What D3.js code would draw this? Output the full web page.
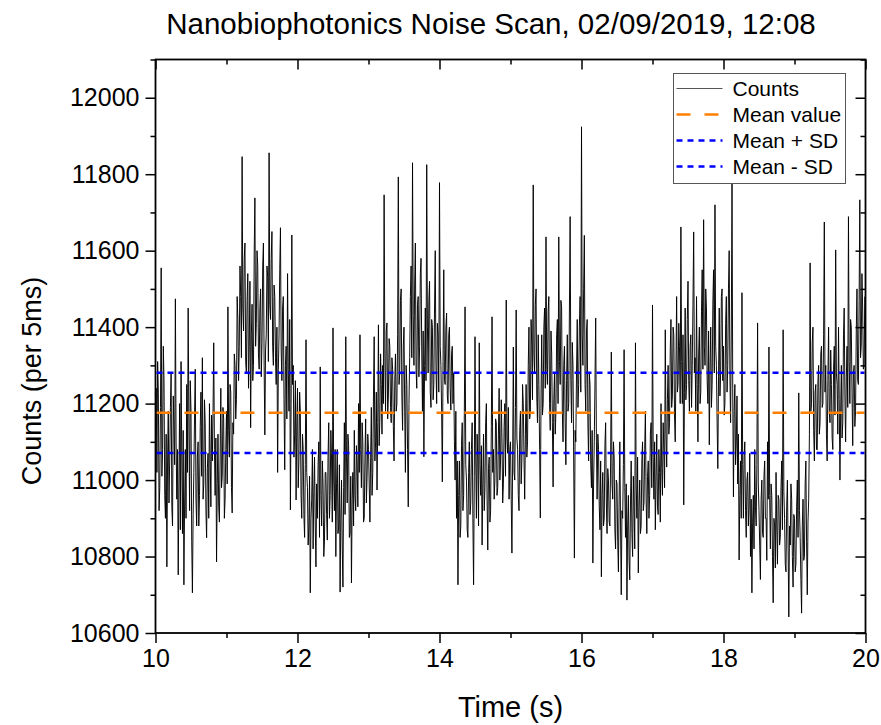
<!DOCTYPE html>
<html>
<head>
<meta charset="utf-8">
<script src="https://cdn.jsdelivr.net/npm/d3@7"></script>
<style>
  body { margin: 0; background: #fff; }
  svg { display: block; }
  text { font-family: Arial, "Liberation Sans", sans-serif; fill: #000; }
</style>
</head>
<body>
<svg id="chart" width="881" height="725"></svg>
<script>
// Photon counts per 5 ms bin, one sample every 10 ms from t = 10 s (each row spans 0.2 s)
const chartTitle = "Nanobiophotonics Noise Scan, 02/09/2019, 12:08";
const xLabel = "Time (s)";
const yLabel = "Counts (per 5ms)";
const startTime = 10;
const sampleStep = 0.01;
const counts = [
  11150,11240,11020,11310,11230,10920,10980,11190,11555,11010,11080,11350,11260,10960,10900,11120,10773,11050,11180,10940,
  11050,11190,11280,10930,10880,11220,11140,11040,11474,11100,10950,11080,10752,10990,11200,10870,11310,11060,10860,11130,
  10726,10940,11080,10900,11250,11020,11450,11160,10920,11260,11180,10840,10705,10910,11020,11170,11290,10950,10880,11060,
  11100,10880,10960,11140,11230,11010,11320,10950,10990,11210,11150,10920,10849,11030,11070,10900,11200,11060,10930,11170,
  11050,11170,11359,11080,10960,11110,10786,10990,11120,10930,10890,11060,11240,10980,11010,11190,11160,10900,10950,11080,
  11180,10990,11453,11130,11060,11250,11230,10980,10914,11150,11120,11330,11300,11160,11210,11480,11420,11260,11350,11560,
  11480,11320,11846,11450,11390,11580,11620,11310,11280,11470,11540,11240,11350,11520,11137,11380,11460,11260,11300,11590,
  11738,11350,11410,11600,11560,11330,11290,11450,11500,11270,11360,11560,11620,11300,11118,11340,11380,11560,11530,11310,
  11856,11460,11420,11580,11650,11350,11300,11510,11480,11320,11250,11400,11020,11290,11380,11550,11660,11340,11260,11450,
  11480,11210,11027,11300,11350,11160,11540,11290,11180,11420,10922,11200,11641,11250,11300,11060,11120,11260,10948,11150,
  11240,10980,11050,11230,11180,10960,10900,11120,11080,10910,10850,11040,11367,11020,10980,10830,10880,11010,10705,10900,
  10950,11080,10820,10970,11060,10880,10773,10990,10900,11040,11100,10850,11296,10960,10880,11050,10990,10800,10840,11020,
  11020,10910,10843,11060,11150,10900,10960,11130,11050,10890,11398,11000,10920,11080,10800,10990,11080,10860,10880,11040,
  10707,10900,11000,10830,10720,10980,11150,10910,11375,11060,10940,11120,11090,10850,10860,11010,10731,10950,11020,10880,
  11130,10960,10920,11090,11040,10930,11200,11020,11380,11080,10980,11150,11100,10890,10900,11060,11160,10940,11010,11120,
  11080,10990,10890,11060,11190,10960,11020,11220,11375,11050,11100,11230,10974,11150,11406,11090,11160,11330,11250,11120,
  11300,11200,11746,11330,11180,11390,11411,11160,11220,11370,11350,11190,11150,11320,11290,11140,11050,11260,11330,11180,
  11200,11380,11793,11250,11280,11470,11500,11220,11130,11350,11400,11180,11020,11300,11250,11080,10930,11200,11320,11480,
  11560,11320,11830,11430,11300,11510,11620,11290,11240,11460,11480,11270,11350,11540,11580,11330,11180,11390,11061,11300,
  11450,11260,11825,11400,11280,11470,11520,11230,11190,11420,11400,11210,11250,11450,11600,11300,11200,11410,11380,11230,
  11778,11350,11300,11180,10995,11310,11550,11260,11250,11400,11437,11220,11200,11380,11400,11240,11183,11330,11350,11200,
  11280,11100,11000,11180,10900,11050,10726,10960,11050,10850,10880,11090,11150,10920,10960,11180,11453,11040,11000,10870,
  10850,11020,11100,10910,10940,11080,11150,10900,10726,11010,11375,11060,10900,11120,11050,10880,11359,11040,10960,11090,
  10830,10990,11120,10920,10980,11150,11200,10950,10817,11030,11060,10890,10920,11140,11427,11020,11080,10950,11000,11160,
  11150,10960,10980,11120,11240,11000,11050,11210,11110,10940,10990,11140,11200,11010,11471,11110,11070,11190,10950,11080,
  11100,10950,10809,11050,11348,11020,11000,11190,11445,11110,11080,10960,10920,11130,11180,10990,11050,11250,11200,11060,
  10950,11120,11250,11060,11100,11300,11400,11160,11180,11420,11350,11210,11772,11330,11280,11460,11500,11220,11150,11380,
  11250,11080,10901,11220,11380,11170,11200,11400,11450,11240,11636,11300,11250,11440,11480,11200,11130,11390,11330,11150,
  10982,11210,11280,11120,11180,11380,11420,11200,11636,11310,11250,11470,11450,11180,11100,11300,11350,11150,11040,11260,
  11380,11180,11200,11450,11689,11260,11150,11360,11300,11050,10796,11130,11100,11280,11420,11190,11250,11400,11480,11230,
  11924,11380,11300,11500,11640,11250,11180,11390,11420,11150,11050,11280,11250,11040,10980,11130,10783,10990,11100,11260,
  11424,11100,10950,11120,11080,10930,10870,11050,10747,10960,11020,10880,10900,11090,11150,10940,10860,11030,11000,10890,
  10880,11050,11335,10990,10950,11100,11060,10870,10820,11000,10990,10840,10760,10950,11100,10880,10700,10920,10900,11040,
  11341,10980,10850,10990,10686,10880,10960,10790,10739,10940,11050,10860,10800,11010,10930,10820,11359,10990,10900,11060,
  10757,10930,11000,10860,10880,11050,11100,10920,10940,11080,11180,10950,10860,11010,11050,10900,10960,11120,11150,10980,
  11458,11060,10950,11100,10870,11010,11120,10930,10910,11080,11020,10890,11200,11030,10960,11150,11080,10980,11393,11120,
  11034,11210,11300,11120,11150,11340,11420,11190,11220,11400,11380,11170,11100,11290,11480,11230,11250,11410,11350,11200,
  11662,11310,11200,11380,10935,11230,11450,11210,11250,11420,11520,11260,11180,11350,11380,11190,11300,11460,11649,11280,
  11320,11180,11480,11250,11100,11330,11400,11200,11230,11440,11550,11290,11681,11350,11300,11500,11450,11260,11200,11390,
  11092,11290,11400,11190,11250,11460,11550,11280,11720,11350,11300,11150,11030,11270,11450,11220,11280,11480,11500,11260,
  11350,11170,11200,11410,11480,11230,11300,11500,11600,11280,11150,11390,11778,11240,10956,11180,11250,11040,11100,11220,
  10990,11120,10791,10960,11050,10900,11490,11040,10900,11060,11100,10920,10850,11000,11020,10880,10930,11070,10800,10950,
  10705,10890,10960,10820,11080,10930,10880,11040,11411,10990,10920,10830,10740,10950,11000,10860,10850,11010,11050,10900,
  10900,10790,11100,10950,11348,10960,10820,10990,10960,10800,10679,10900,10880,10770,11020,10880,10780,10960,10950,10830,
  10850,10980,11050,10870,11393,10970,10900,10780,10760,10930,11000,10820,10642,10880,10830,10990,10950,10800,10720,10910,
  10900,10760,10780,10930,11000,10850,11228,10920,10850,10740,10652,10880,10950,10790,10800,10990,11050,10840,10700,10890,
  10950,11120,11568,11180,11200,11360,11400,11130,11050,11230,11250,11080,11079,11260,11300,11120,11150,11330,11350,11190,
  11200,11380,11675,11230,11300,11120,11050,11260,11400,11180,11150,11340,11250,11110,11080,11290,11350,11170,11602,11280,
  11250,11120,11400,11210,11000,11180,11300,11110,11150,11380,11450,11220,11100,11270,11350,11190,11689,11310,11200,11420,
  11400,11230,11090,11280,11300,11140,11180,11390,11500,11260,11250,11470,11733,11320,11350,11540,11450,11290,11300,11480
];
const meanValue = 11176;
const sdValue = 105;
const xDomain = [10, 20];
const yDomain = [10600, 12100];
const xMajorTicks = [10, 12, 14, 16, 18, 20];
const xMinorTicks = [11, 13, 15, 17, 19];
const yMajorTicks = [10600, 10800, 11000, 11200, 11400, 11600, 11800, 12000];
const yMinorTicks = [10700, 10900, 11100, 11300, 11500, 11700, 11900, 12100];
const legendLabels = ["Counts", "Mean value", "Mean + SD", "Mean - SD"];

const svg = d3.select("#chart");
const plot = { left: 155.5, right: 865.5, top: 59.5, bottom: 633 };

const x = d3.scaleLinear().domain(xDomain).range([plot.left, plot.right]);
const y = d3.scaleLinear().domain(yDomain).range([plot.bottom, plot.top]);

const colors = { counts: "#000", mean: "#ff8000", sd: "#0000ff" };

// clip the trace to the frame
svg.append("defs").append("clipPath").attr("id", "plotClip")
  .append("rect")
  .attr("x", plot.left).attr("y", plot.top)
  .attr("width", plot.right - plot.left).attr("height", plot.bottom - plot.top);

// counts trace
const line = d3.line()
  .x((d, i) => x(startTime + i * sampleStep))
  .y(d => y(d));

svg.append("path")
  .datum(counts)
  .attr("clip-path", "url(#plotClip)")
  .attr("fill", "none")
  .attr("stroke", colors.counts)
  .attr("stroke-width", 0.95)
  .attr("stroke-linejoin", "bevel")
  .attr("d", line);

// reference lines: mean and mean ± SD
const refLines = [
  { v: meanValue, color: colors.mean, dash: "14,14" },
  { v: meanValue + sdValue, color: colors.sd, dash: "6,5" },
  { v: meanValue - sdValue, color: colors.sd, dash: "6,5" }
];
svg.append("g").selectAll("line").data(refLines).join("line")
  .attr("x1", plot.left + 1).attr("x2", plot.right - 1)
  .attr("y1", d => y(d.v)).attr("y2", d => y(d.v))
  .attr("stroke", d => d.color)
  .attr("stroke-width", 2.5)
  .attr("stroke-dasharray", d => d.dash);

// axes
function styleAxis(g) {
  g.select(".domain").remove();
  g.selectAll("line").attr("stroke", "#000").attr("stroke-width", 1.5);
  g.selectAll("text").style("font-size", "25px").attr("fill", "#000");
}
const major = 10, minor = 5;

svg.append("g").attr("transform", `translate(0,${plot.bottom})`)
  .call(d3.axisBottom(x).tickValues(xMajorTicks).tickSize(major).tickPadding(6).tickFormat(d3.format("d")))
  .call(styleAxis);
svg.append("g").attr("transform", `translate(0,${plot.bottom})`)
  .call(d3.axisBottom(x).tickValues(xMinorTicks).tickSize(minor).tickFormat(""))
  .call(styleAxis);
svg.append("g").attr("transform", `translate(0,${plot.top})`)
  .call(d3.axisBottom(x).tickValues(xMajorTicks).tickSize(major).tickFormat(""))
  .call(styleAxis);
svg.append("g").attr("transform", `translate(0,${plot.top})`)
  .call(d3.axisBottom(x).tickValues(xMinorTicks).tickSize(minor).tickFormat(""))
  .call(styleAxis);

svg.append("g").attr("transform", `translate(${plot.left},0)`)
  .call(d3.axisLeft(y).tickValues(yMajorTicks).tickSize(major).tickPadding(6).tickFormat(d3.format("d")))
  .call(styleAxis);
svg.append("g").attr("transform", `translate(${plot.left},0)`)
  .call(d3.axisLeft(y).tickValues(yMinorTicks).tickSize(minor).tickFormat(""))
  .call(styleAxis);
svg.append("g").attr("transform", `translate(${plot.right},0)`)
  .call(d3.axisLeft(y).tickValues(yMajorTicks).tickSize(major).tickFormat(""))
  .call(styleAxis);
svg.append("g").attr("transform", `translate(${plot.right},0)`)
  .call(d3.axisLeft(y).tickValues(yMinorTicks).tickSize(minor).tickFormat(""))
  .call(styleAxis);

// frame
svg.append("rect")
  .attr("x", plot.left).attr("y", plot.top)
  .attr("width", plot.right - plot.left).attr("height", plot.bottom - plot.top)
  .attr("fill", "none").attr("stroke", "#000").attr("stroke-width", 1.8);

// titles
svg.append("text")
  .attr("x", 491).attr("y", 34)
  .attr("text-anchor", "middle")
  .style("font-size", "29.5px")
  .text(chartTitle);
svg.append("text")
  .attr("x", (plot.left + plot.right) / 2).attr("y", 717)
  .attr("text-anchor", "middle")
  .style("font-size", "29px")
  .text(xLabel);
svg.append("text")
  .attr("transform", "translate(41,381) rotate(-90)")
  .attr("text-anchor", "middle")
  .style("font-size", "27px")
  .text(yLabel);

// legend
const lg = svg.append("g").attr("transform", "translate(673.5,73.5)");
lg.append("rect").attr("width", 172).attr("height", 110)
  .attr("fill", "#fff").attr("stroke", "#555").attr("stroke-width", 1);
const legendItems = [
  { label: legendLabels[0], color: "#555", dash: null, w: 1 },
  { label: legendLabels[1], color: colors.mean, dash: "14,14", w: 2.5 },
  { label: legendLabels[2], color: colors.sd, dash: "6,5", w: 2.5 },
  { label: legendLabels[3], color: colors.sd, dash: "6,5", w: 2.5 }
];
const rows = lg.selectAll("g.item").data(legendItems).join("g")
  .attr("class", "item")
  .attr("transform", (d, i) => `translate(0,${15 + i * 26})`);
rows.append("line")
  .attr("x1", 3).attr("x2", 49).attr("y1", 0).attr("y2", 0)
  .attr("stroke", d => d.color).attr("stroke-width", d => d.w)
  .attr("stroke-dasharray", d => d.dash);
rows.append("text")
  .attr("x", 59).attr("y", 0).attr("dy", "0.35em")
  .style("font-size", "21px")
  .text(d => d.label);
</script>
</body>
</html>
